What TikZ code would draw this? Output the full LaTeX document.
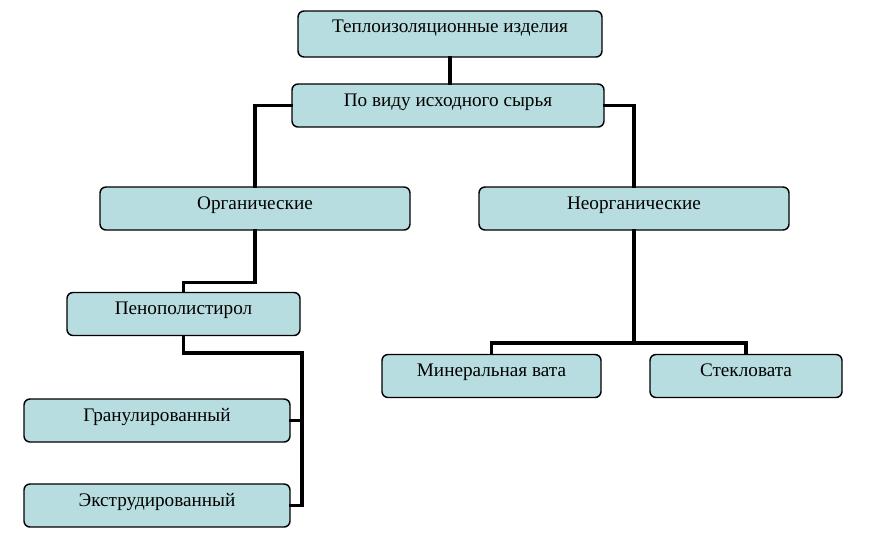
\documentclass[tikz,border=0pt]{standalone}
\usepackage{fontspec}
\setmainfont{Liberation Serif}
\usepackage{tikz}
\usetikzlibrary{positioning,calc}
\definecolor{boxfill}{RGB}{184,221,224}

\begin{document}
\begin{tikzpicture}[x=0.75pt,y=-0.75pt,
  box/.style={draw=black,line width=1.1pt,fill=boxfill,rounded corners=4.5pt,
    inner sep=0pt,font=\fontsize{14.4}{16}\selectfont,text height=16.5pt,text depth=15.75pt},
  link/.style={line width=2.4pt,line cap=rect}]
\useasboundingbox (0,0) rectangle (869,540);

\node[box,minimum width=228pt,minimum height=34.5pt,text height=16pt,text depth=18.5pt] (top) at (450,34) {Теплоизоляционные изделия};
\node[box,minimum width=234pt,minimum height=32.25pt] (kind) at (448,105.5) {По виду исходного сырья};

\node[box,minimum width=232.5pt,minimum height=32.25pt] (org) at (255,208.5) {Органические};
\node[box,minimum width=232.5pt,minimum height=32.25pt] (inorg) at (634,208.5) {Неорганические};

\node[box,minimum width=174.75pt,minimum height=31.5pt] (foam) at (183.5,314) {Пенополистирол};
\node[box,minimum width=199.5pt,minimum height=30.75pt] (gran) at (157,420.5) {Гранулированный};
\node[box,minimum width=199.5pt,minimum height=30.75pt] (extr) at (157,505.5) {Экструдированный};

\node[box,minimum width=164.25pt,minimum height=31.5pt] (wool) at (491.5,376) {Минеральная вата};
\node[box,minimum width=144pt,minimum height=31.5pt] (glass) at (746,376) {Стекловата};

\coordinate (fbus) at (302,353);
\coordinate (nbus) at (634,343);

\draw[link] (top.south) -- (top.south |- kind.north);
\draw[link] (kind.west) -| (org.north);
\draw[link] (kind.east) -| (inorg.north);

\draw[link] (org.south) -- ++(0,52) -| (foam.north);
\draw[link] (foam.south) |- (fbus) -- (fbus |- extr.east);
\draw[link] (gran.east) -- (gran.east -| fbus);
\draw[link] (extr.east) -- (extr.east -| fbus);

\draw[link] (inorg.south) -- (nbus);
\draw[link] (wool.north) |- (nbus) -| (glass.north);
\end{tikzpicture}
\end{document}
